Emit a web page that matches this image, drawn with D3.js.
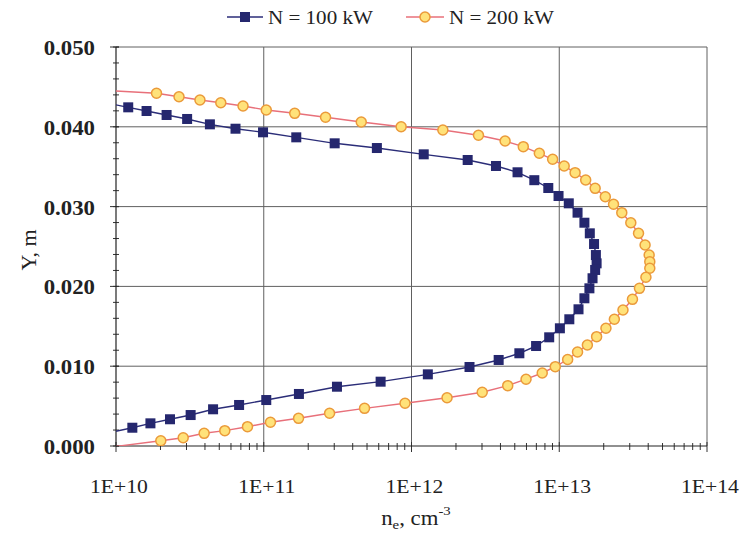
<!DOCTYPE html>
<html><head><meta charset="utf-8">
<script src="https://cdn.jsdelivr.net/npm/d3@7"></script>
<style>body{margin:0;background:#fff}svg{display:block}</style>
</head><body>
<svg id="c" width="740" height="535"></svg>
<script>
// Series: electron density ne (cm^-3) and Y (m)
const ne100 = [9.0e9,1.21e10,1.61e10,2.20e10,3.03e10,4.32e10,6.44e10,9.89e10,1.66e11,3.02e11,5.83e11,1.21e12,2.40e12,3.73e12,5.22e12,6.78e12,8.43e12,9.89e12,1.16e13,1.33e13,1.48e13,1.61e13,1.72e13,1.77e13,1.79e13,1.75e13,1.68e13,1.60e13,1.48e13,1.35e13,1.17e13,1.01e13,8.55e12,6.97e12,5.37e12,3.89e12,2.47e12,1.29e12,6.18e11,3.13e11,1.73e11,1.04e11,6.81e10,4.54e10,3.20e10,2.32e10,1.71e10,1.29e10,9.1e9];
const y100 = [0.04292,0.04244,0.04198,0.04148,0.04098,0.04031,0.03976,0.03931,0.03868,0.03793,0.03734,0.03655,0.03584,0.03509,0.03430,0.03331,0.03233,0.03133,0.03041,0.02924,0.02798,0.02665,0.02531,0.02393,0.02289,0.02206,0.02102,0.01976,0.01851,0.01713,0.01588,0.01475,0.01362,0.01253,0.01162,0.01078,0.00990,0.00898,0.00806,0.00743,0.00652,0.00576,0.00514,0.00460,0.00388,0.00335,0.00284,0.00229,0.00168];
const ne200 = [9.0e9,1.88e10,2.67e10,3.70e10,5.12e10,7.24e10,1.04e11,1.62e11,2.62e11,4.57e11,8.51e11,1.63e12,2.84e12,4.30e12,5.71e12,7.33e12,9.02e12,1.08e13,1.28e13,1.51e13,1.75e13,2.05e13,2.33e13,2.65e13,3.05e13,3.44e13,3.81e13,4.06e13,4.10e13,4.10e13,3.86e13,3.49e13,3.13e13,2.70e13,2.36e13,2.07e13,1.79e13,1.55e13,1.33e13,1.14e13,9.40e12,7.67e12,5.96e12,4.48e12,3.01e12,1.74e12,9.04e11,4.81e11,2.79e11,1.72e11,1.11e11,7.76e10,5.45e10,3.95e10,2.85e10,2.01e10,9.0e9];
const y200 = [0.04453,0.04420,0.04377,0.04336,0.04302,0.04261,0.04211,0.04169,0.04119,0.04060,0.04001,0.03960,0.03894,0.03822,0.03751,0.03668,0.03593,0.03509,0.03425,0.03333,0.03229,0.03124,0.03029,0.02924,0.02798,0.02665,0.02519,0.02393,0.02310,0.02227,0.02114,0.01976,0.01838,0.01704,0.01588,0.01475,0.01370,0.01266,0.01178,0.01084,0.00994,0.00915,0.00837,0.00756,0.00673,0.00605,0.00535,0.00472,0.00410,0.00347,0.00297,0.00242,0.00192,0.00159,0.00104,0.00066,-0.00016];
const seriesNames = ["N = 100 kW","N = 200 kW"];
const xTicks = [1e10,1e11,1e12,1e13,1e14];
const xTickLabels = ["1E+10","1E+11","1E+12","1E+13","1E+14"];
const yTicks = [0,0.01,0.02,0.03,0.04,0.05];
const yTickLabels = ["0.000","0.010","0.020","0.030","0.040","0.050"];

const L=116,R=707,T=47,B=446;
const SX=1.14;
const svg=d3.select("#c");
const font="'Liberation Serif','Times New Roman',serif";
const x=d3.scaleLog().domain([1e10,1e14]).range([L,R]);
const y=d3.scaleLinear().domain([0,0.05]).range([B,T]);

svg.append("defs").append("clipPath").attr("id","pc").append("rect")
  .attr("x",L).attr("y",T-6).attr("width",R-L+6).attr("height",B-T+6);

// grid
const g=svg.append("g");
g.selectAll(".gx").data(xTicks.slice(1)).join("line")
  .attr("x1",d=>x(d)).attr("x2",d=>x(d)).attr("y1",T).attr("y2",B)
  .attr("stroke","#606060").attr("stroke-width",1);
g.selectAll(".gy").data(yTicks.slice(1)).join("line")
  .attr("x1",L).attr("x2",R).attr("y1",d=>y(d)).attr("y2",d=>y(d))
  .attr("stroke","#606060").attr("stroke-width",1);

// minor ticks
const xMinor=[];
for(let e=10;e<14;e++) for(let m=2;m<=9;m++) xMinor.push(m*Math.pow(10,e));
g.selectAll(".mx").data(xMinor).join("line")
  .attr("x1",d=>x(d)).attr("x2",d=>x(d)).attr("y1",B-3).attr("y2",B+4)
  .attr("stroke","#333");
g.selectAll(".Mx").data(xTicks).join("line")
  .attr("x1",d=>x(d)).attr("x2",d=>x(d)).attr("y1",B-4).attr("y2",B+6)
  .attr("stroke","#333");
const yMinor=d3.range(0,0.0501,0.002);
g.selectAll(".my").data(yMinor).join("line")
  .attr("x1",L-3).attr("x2",L+3).attr("y1",d=>y(d)).attr("y2",d=>y(d))
  .attr("stroke","#333");
g.selectAll(".My").data(yTicks).join("line")
  .attr("x1",L-6).attr("x2",L+3).attr("y1",d=>y(d)).attr("y2",d=>y(d))
  .attr("stroke","#333");

// axes lines
g.append("line").attr("x1",L).attr("x2",L).attr("y1",T).attr("y2",B).attr("stroke","#222").attr("stroke-width",1.2);
g.append("line").attr("x1",L).attr("x2",R).attr("y1",B).attr("y2",B).attr("stroke","#222").attr("stroke-width",1.2);

// tick labels
svg.selectAll(".xl").data(xTicks).join("text")
  .attr("transform",d=>`translate(${x(d)+3},${B+47}) scale(${SX},1)`).attr("text-anchor","middle")
  .attr("font-family",font).attr("font-size",19).attr("fill","#222")
  .text((d,i)=>xTickLabels[i]);
svg.selectAll(".yl").data(yTicks).join("text")
  .attr("transform",d=>`translate(${L-21},${y(d)+8}) scale(${SX},1)`).attr("text-anchor","end")
  .attr("font-family",font).attr("font-size",20).attr("font-weight","bold").attr("fill","#222")
  .text((d,i)=>yTickLabels[i]);

// axis titles
const xt=svg.append("text").attr("transform",`translate(416,525) scale(${SX},1)`).attr("text-anchor","middle")
  .attr("font-family",font).attr("font-size",20).attr("fill","#222");
xt.append("tspan").text("n");
xt.append("tspan").attr("font-size",13).attr("dy",4).text("e");
xt.append("tspan").attr("dy",-4).text(", cm");
xt.append("tspan").attr("font-size",13).attr("dy",-10).text("-3");
svg.append("text").attr("transform","translate(36,250) rotate(-90) scale(1.1,1)").attr("text-anchor","middle")
  .attr("font-family",font).attr("font-size",20).attr("fill","#222").text("Y, m");

// series
const d100=ne100.map((v,i)=>[v,y100[i]]);
const d200=ne200.map((v,i)=>[v,y200[i]]);
const line=d3.line().x(d=>x(d[0])).y(d=>y(d[1]));
const pl=svg.append("g").attr("clip-path","url(#pc)");
pl.append("path").datum(d100).attr("d",line).attr("fill","none").attr("stroke","#2b2d78").attr("stroke-width",1.4);
pl.append("path").datum(d200).attr("d",line).attr("fill","none").attr("stroke","#e8707a").attr("stroke-width",1.4);
pl.selectAll(".sq").data(d100).join("rect")
  .attr("x",d=>x(d[0])-5).attr("y",d=>y(d[1])-5).attr("width",10).attr("height",10)
  .attr("fill","#25276e");
pl.selectAll(".ci").data(d200).join("circle")
  .attr("cx",d=>x(d[0])).attr("cy",d=>y(d[1])).attr("r",5)
  .attr("fill","#ffe27a").attr("stroke","#eb9a3a").attr("stroke-width",1.5);

// legend
const LS=1.08;
const lg=svg.append("g");
lg.append("line").attr("x1",227).attr("x2",263).attr("y1",17).attr("y2",17).attr("stroke","#2b2d78").attr("stroke-width",1.4);
lg.append("rect").attr("x",240).attr("y",12).attr("width",10).attr("height",10).attr("fill","#25276e");
lg.append("text").attr("transform",`translate(268,24) scale(${LS},1)`).attr("font-family",font).attr("font-size",19.5).attr("fill","#222").text(seriesNames[0]);
lg.append("line").attr("x1",406).attr("x2",444).attr("y1",17).attr("y2",17).attr("stroke","#e8707a").attr("stroke-width",1.4);
lg.append("circle").attr("cx",425).attr("cy",17).attr("r",5).attr("fill","#ffe27a").attr("stroke","#eb9a3a").attr("stroke-width",1.5);
lg.append("text").attr("transform",`translate(449,24) scale(${LS},1)`).attr("font-family",font).attr("font-size",19.5).attr("fill","#222").text(seriesNames[1]);
</script>
</body></html>
